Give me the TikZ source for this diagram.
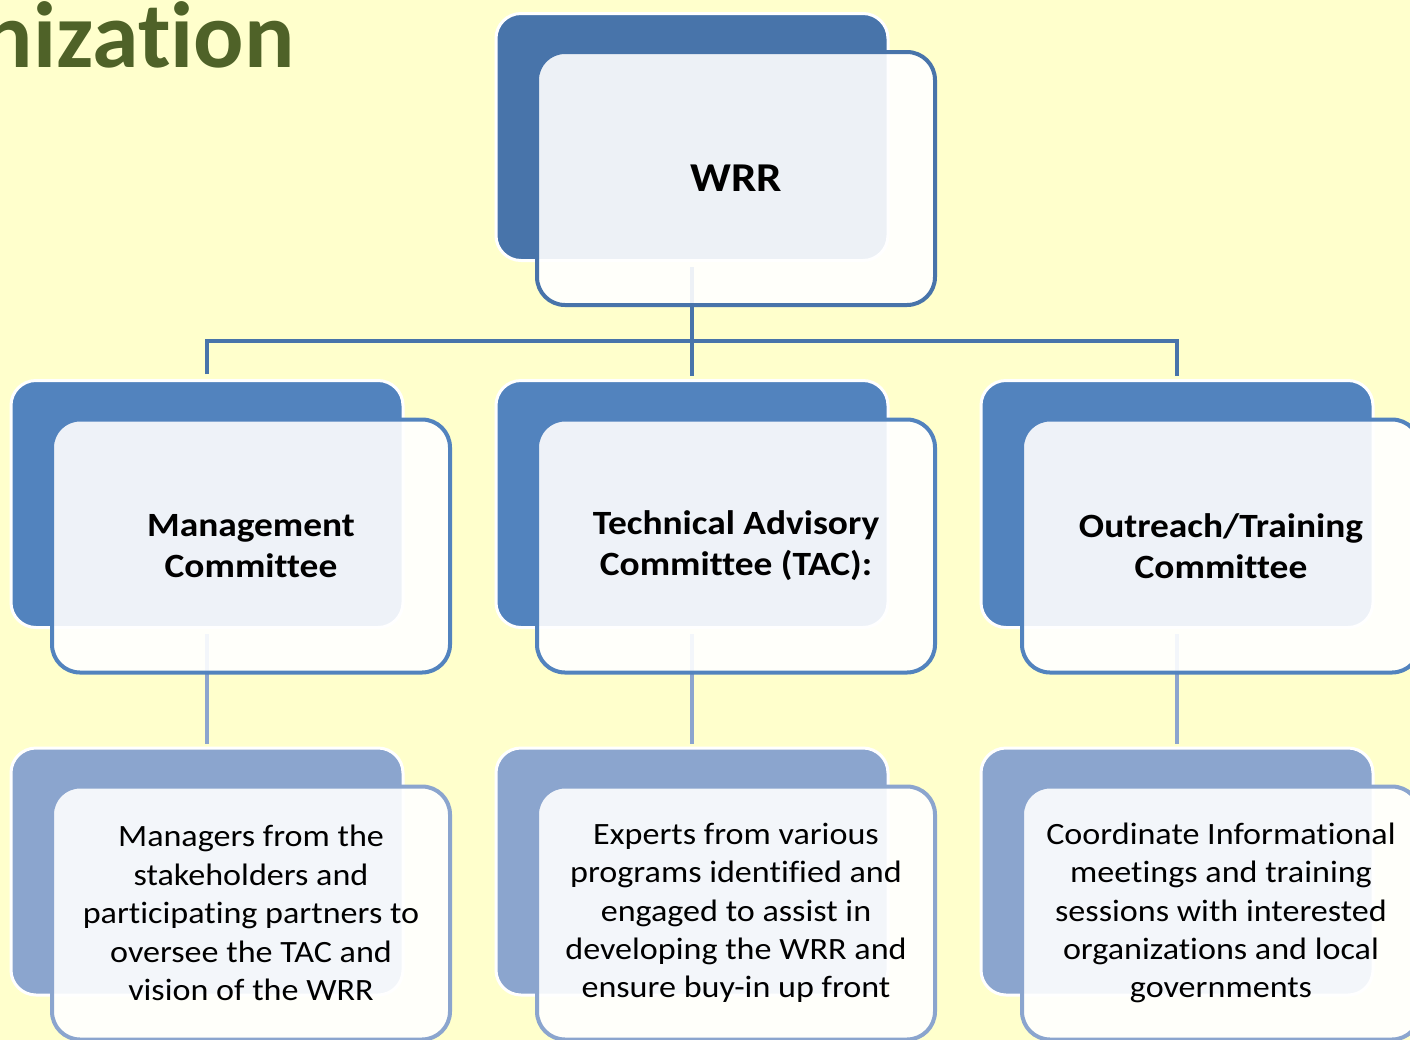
\documentclass[tikz,border=0pt]{standalone}
\usepackage{fontspec}
\setmainfont{Carlito}[Ligatures=NoCommon]
\newfontfamily\boxfont{Carlito}[Ligatures=NoCommon, FakeStretch=1.1]
\usetikzlibrary{positioning}
\definecolor{bgyellow}{HTML}{FFFFCC}
\definecolor{titlegreen}{HTML}{4F6228}
\definecolor{topblue}{HTML}{4874AA}
\definecolor{midblue}{HTML}{5283BE}
\definecolor{lowblue}{HTML}{8BA5CE}

\begin{document}
\begin{tikzpicture}[x=0.5pt, y=-0.5pt,
                      backbox/.style = {shape=rectangle, rounded corners=12.5pt,
                        minimum width=196pt, minimum height=123.5pt,
                        inner sep=0pt, draw=white, line width=1.5pt},
                      frontbox/.style = {shape=rectangle, rounded corners=14pt,
                        minimum width=199pt, minimum height=126.5pt,
                        inner sep=0pt, align=center, line width=2pt,
                        fill=white, fill opacity=0.9, text opacity=1},
                      headtext/.style = {font=\boxfont\fontsize{17pt}{20.5pt}\selectfont\bfseries},
                      bodytext/.style = {font=\boxfont\fontsize{15.5pt}{19.2pt}\selectfont},
                      link/.style = {line width=2pt, shorten <=2.5pt, shorten >=1.5pt}]
                      \useasboundingbox (0,0) rectangle (1410,1040);
                      \fill[bgyellow] (0,0) rectangle (1410,1040);
                      \node[anchor=base east, inner sep=0pt, text=titlegreen,
                        font=\fontsize{47pt}{56pt}\selectfont\bfseries] (title) at (295,67) {nization};
                      % back boxes
                      \node[backbox, fill=topblue] (wrrb) at (692,137) {};
                      \node[backbox, fill=midblue] (mgmtb) at (207,504) {};
                      \node[backbox, fill=midblue] (tacb) at (692,504) {};
                      \node[backbox, fill=midblue] (outb) at (1177,504) {};
                      \node[backbox, fill=lowblue] (mgrb) at (207,871.5) {};
                      \node[backbox, fill=lowblue] (expb) at (692,871.5) {};
                      \node[backbox, fill=lowblue] (coordb) at (1177,871.5) {};
                      % connectors
                      \coordinate (fork) at (692,341);
                      \draw[link, draw=topblue] (wrrb.south) -- (tacb.north);
                      \draw[link, draw=topblue] (mgmtb.north) |- (fork) -| (outb.north);
                      \draw[link, draw=lowblue] (mgmtb.south) -- (mgrb.north);
                      \draw[link, draw=lowblue] (tacb.south) -- (expb.north);
                      \draw[link, draw=lowblue] (outb.south) -- (coordb.north);
                      % front boxes
                      \node[frontbox, draw=topblue, font=\boxfont\fontsize{20.5pt}{24pt}\selectfont\bfseries]
                        (wrr) at (736,178.5) {WRR};
                      \node[frontbox, draw=midblue, headtext] (mgmt) at (251,546)
                        {Management\\Committee};
                      \node[frontbox, draw=midblue, headtext] (tac) at (736,546)
                        {Technical Advisory\\Committee (TAC):};
                      \node[frontbox, draw=midblue, headtext] (out) at (1221,546)
                        {Outreach/Training\\Committee};
                      \node[frontbox, draw=lowblue, bodytext] (mgr) at (251,913)
                        {Managers from the\\stakeholders and\\participating partners to\\oversee the TAC and\\vision of the WRR};
                      \node[frontbox, draw=lowblue, bodytext] (exp) at (736,913)
                        {Experts from various\\programs identified and\\engaged to assist in\\developing the WRR and\\ensure buy-in up front};
                      \node[frontbox, draw=lowblue, bodytext] (coord) at (1221,913)
                        {Coordinate Informational\\meetings and training\\sessions with interested\\organizations and local\\governments};
                    \end{tikzpicture}
\end{document}
